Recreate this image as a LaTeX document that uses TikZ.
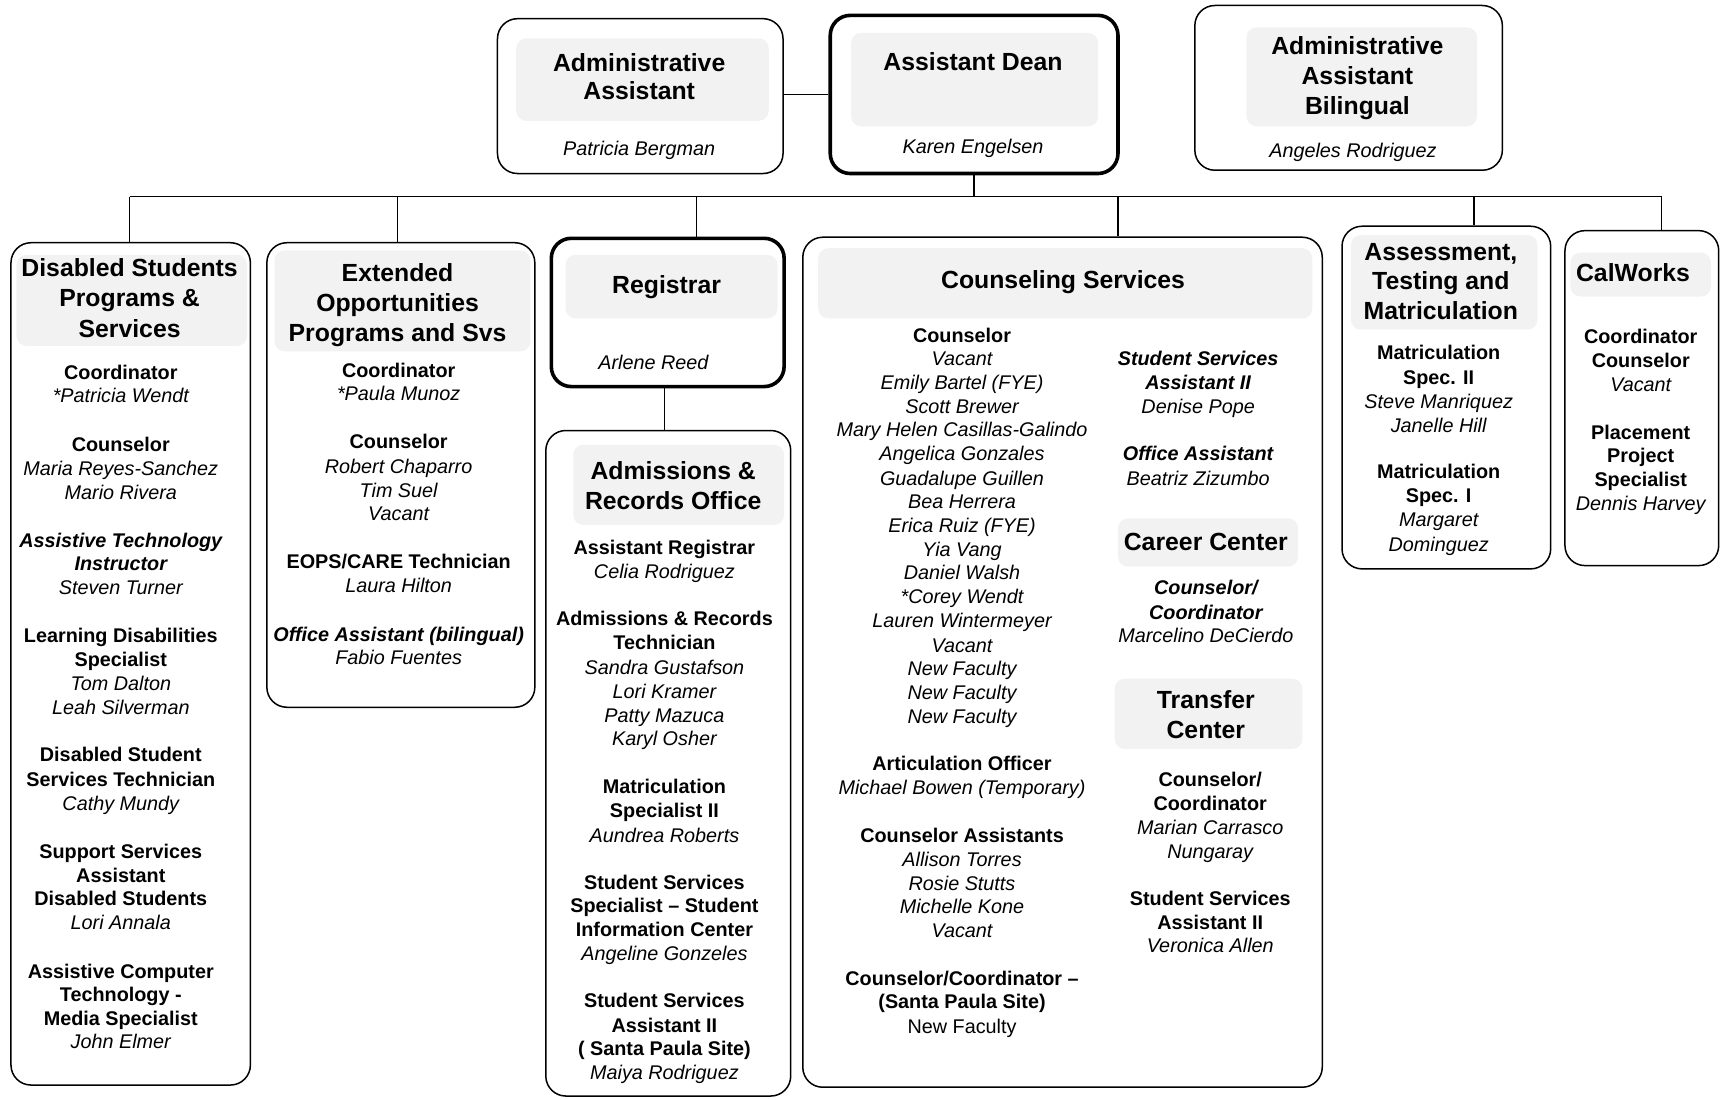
\documentclass[tikz,border=0pt]{standalone}
\usepackage{fontspec}
\setmainfont{Liberation Sans}
\usetikzlibrary{fit}
\tikzset{
  box/.style={draw=black, line width=0.75pt, rounded corners=10pt, inner sep=0pt},
  thickbox/.style={box, line width=1.8pt},
  conn/.style={draw=black, line width=0.75pt},
  shadearea/.style={fill=black!5, rounded corners=5pt},
  tt/.style={font=\bfseries\fontsize{12.4}{15}\selectfont, text height=9pt, text depth=2.6pt, inner sep=0pt, yshift=-1.2pt},
  bb/.style={font=\bfseries\fontsize{9.9}{11.9}\selectfont, text height=7pt, text depth=2pt, inner sep=0pt, yshift=-1.2pt},
  ii/.style={font=\itshape\fontsize{9.9}{11.9}\selectfont, text height=7pt, text depth=2pt, inner sep=0pt, yshift=-1.2pt},
  bi/.style={font=\bfseries\itshape\fontsize{9.9}{11.9}\selectfont, text height=7pt, text depth=2pt, inner sep=0pt, yshift=-1.2pt},
  rr/.style={font=\fontsize{9.9}{11.9}\selectfont, text height=7pt, text depth=2pt, inner sep=0pt, yshift=-1.2pt},
}
\begin{document}
\begin{tikzpicture}[x=0.5491pt, y=-0.5491pt]
\useasboundingbox (0,0) rectangle (1568,1001);

% ---------- title shading ----------
\fill[shadearea] (470,35) rectangle (700,110);
\fill[shadearea] (775,30) rectangle (1000,115);
\fill[shadearea] (1135,25) rectangle (1345,115);
\fill[shadearea] (15,232) rectangle (225,315);
\fill[shadearea] (250,228) rectangle (483,320);
\fill[shadearea] (515,232) rectangle (708,290);
\fill[shadearea] (522,405) rectangle (714,478);
\fill[shadearea] (745,226) rectangle (1195,290);
\fill[shadearea] (1018,472) rectangle (1182,516);
\fill[shadearea] (1015,618) rectangle (1186,682);
\fill[shadearea] (1230,214) rectangle (1400,300);
\fill[shadearea] (1430,230) rectangle (1558,270);

% ---------- boxes ----------
\node[box, fit={(453,17) (713,158)}] (aa) {};
\node[thickbox, fit={(756,14) (1018,158)}] (dean) {};
\node[box, fit={(1088,5) (1368,155)}] (bil) {};
\node[box, fit={(10,221) (228,988)}] (dsps) {};
\node[box, fit={(243,221) (487,644)}] (eops) {};
\node[thickbox, fit={(502,217) (714,352)}] (reg) {};
\node[box, fit={(497,392) (720,998)}] (adm) {};
\node[box, fit={(731,216) (1204,990)}] (cou) {};
\node[box, fit={(1222,206) (1412,518)}] (ass) {};
\node[box, fit={(1425,210) (1565,515)}] (cal) {};

% ---------- connectors ----------
\coordinate (busL) at (118,179);
\coordinate (busR) at (1513,179);
\coordinate (bDean) at (887,179);
\coordinate (bEops) at (362,179);
\coordinate (bReg) at (634,179);
\coordinate (bCou) at (1018,179);
\coordinate (bAss) at (1342,179);
\coordinate (aaLink) at (713,86);
\draw[conn] (aaLink) -- (aaLink -| dean.west);
\draw[conn] (dean.south -| bDean) -- (bDean);
\draw[conn] (busL) -- (busR);
\draw[conn] (busL) -- (busL |- dsps.north);
\draw[conn] (bEops) -- (bEops |- eops.north);
\draw[conn] (bReg) -- (bReg |- reg.north);
\draw[conn] (bCou) -- (bCou |- cou.north);
\draw[conn] (bAss) -- (bAss |- ass.north);
\draw[conn] (busR) -- (busR |- cal.north);
\coordinate (rA) at (605,352);
\draw[conn] (rA |- reg.south) -- (rA |- adm.north);

% ---------- top boxes text ----------
\foreach \y/\t in {57/Administrative, 83/Assistant} \node[tt] (aaT\y) at (582,\y) {\t};
\node[ii] (aaN) at (582,135) {Patricia Bergman};
\node[tt] (deanT) at (886,56) {Assistant Dean};
\node[ii] (deanN) at (886,133) {Karen Engelsen};
\foreach \y/\t in {42/Administrative, 69/Assistant, 96/Bilingual} \node[tt] (bilT\y) at (1236,\y) {\t};
\node[ii] (bilN) at (1232,137) {Angeles Rodriguez};

% ---------- DSPS ----------
\foreach \y/\t in {244/Disabled Students, 271/Programs \&, 299/Services} \node[tt] (dspsT\y) at (118,\y) {\t};
\foreach \y/\t in {339/Coordinator, 404/Counselor, 578/Learning Disabilities, 600/Specialist, 687/Disabled Student, 709/Services Technician, 775/Support Services, 797/Assistant, 818/Disabled Students, 884/Assistive Computer, 905/Technology -, 927/Media Specialist}
  \node[bb] (dspsB\y) at (110,\y) {\t};
\foreach \y/\t in {360/*Patricia Wendt, 426/Maria Reyes-Sanchez, 448/Mario Rivera, 535/Steven Turner, 622/Tom Dalton, 644/Leah Silverman, 731/Cathy Mundy, 840/Lori Annala, 948/John Elmer}
  \node[ii] (dspsI\y) at (110,\y) {\t};
\foreach \y/\t in {492/Assistive Technology, 513/Instructor}
  \node[bi] (dspsX\y) at (110,\y) {\t};

% ---------- EOPS ----------
\foreach \y/\t in {248/Extended, 276/Opportunities, 303/Programs and Svs} \node[tt] (eopsT\y) at (362,\y) {\t};
\foreach \y/\t in {337/Coordinator, 402/Counselor, 511/{EOPS/CARE Technician}}
  \node[bb] (eopsB\y) at (363,\y) {\t};
\foreach \y/\t in {358/*Paula Munoz, 424/Robert Chaparro, 446/Tim Suel, 467/Vacant, 533/Laura Hilton, 598/Fabio Fuentes}
  \node[ii] (eopsI\y) at (363,\y) {\t};
\node[bi] (eopsX577) at (363,577) {Office Assistant (bilingual)};

% ---------- Registrar ----------
\node[tt] (regT) at (607,259) {Registrar};
\node[ii] (regN) at (595,330) {Arlene Reed};

% ---------- Admissions ----------
\foreach \y/\t in {429/Admissions \&, 456/Records Office} \node[tt] (admT\y) at (613,\y) {\t};
\foreach \y/\t in {498/Assistant Registrar, 563/Admissions \& Records, 585/Technician, 716/Matriculation, 738/Specialist II, 803/Student Services, 824/Specialist -- Student, 846/Information Center, 911/Student Services, 933/Assistant II, 954/( Santa Paula Site)}
  \node[bb] (admB\y) at (605,\y) {\t};
\foreach \y/\t in {520/Celia Rodriguez, 607/Sandra Gustafson, 629/Lori Kramer, 651/Patty Mazuca, 672/Karyl Osher, 760/Aundrea Roberts, 868/Angeline Gonzeles, 976/Maiya Rodriguez}
  \node[ii] (admI\y) at (605,\y) {\t};

% ---------- Counseling ----------
\node[tt] (couT) at (968,255) {Counseling Services};
\foreach \y/\t in {305/Counselor, 695/Articulation Officer, 760/Counselor Assistants, 891/{Counselor/Coordinator --}, 912/(Santa Paula Site)}
  \node[bb] (couB\y) at (876,\y) {\t};
\node[rr] (couR934) at (876,934) {New Faculty};
\foreach \y/\t in {326/Vacant, 348/Emily Bartel (FYE), 370/Scott Brewer, 391/Mary Helen Casillas-Galindo, 413/Angelica Gonzales, 435/Guadalupe Guillen, 456/Bea Herrera, 478/Erica Ruiz (FYE), 500/Yia Vang, 521/Daniel Walsh, 543/*Corey Wendt, 565/Lauren Wintermeyer, 587/Vacant, 608/New Faculty, 630/New Faculty, 652/New Faculty, 717/Michael Bowen (Temporary), 782/Allison Torres, 804/Rosie Stutts, 825/Michelle Kone, 847/Vacant}
  \node[ii] (couI\y) at (876,\y) {\t};
% right column
\foreach \y/\t in {326/Student Services, 348/Assistant II, 413/Office Assistant}
  \node[bi] (couRX\y) at (1091,\y) {\t};
\foreach \y/\t in {370/Denise Pope, 435/Beatriz Zizumbo}
  \node[ii] (couRI\y) at (1091,\y) {\t};
\node[tt] (careerT) at (1098,493) {Career Center};
\foreach \y/\t in {535/{Counselor/}, 557/Coordinator}
  \node[bi] (careerX\y) at (1098,\y) {\t};
\node[ii] (careerN) at (1098,578) {Marcelino DeCierdo};
\foreach \y/\t in {637/Transfer, 664/Center} \node[tt] (trT\y) at (1098,\y) {\t};
\foreach \y/\t in {709/{Counselor/}, 731/Coordinator, 818/Student Services, 840/Assistant II}
  \node[bb] (trB\y) at (1102,\y) {\t};
\foreach \y/\t in {753/Marian Carrasco, 775/Nungaray, 861/Veronica Allen}
  \node[ii] (trI\y) at (1102,\y) {\t};

% ---------- Assessment ----------
\foreach \y/\t in {229/{Assessment,}, 256/Testing and, 283/Matriculation} \node[tt] (assT\y) at (1312,\y) {\t};
\foreach \y/\t in {321/Matriculation, 343/Spec. II, 429/Matriculation, 451/Spec. I}
  \node[bb] (assB\y) at (1310,\y) {\t};
\foreach \y/\t in {365/Steve Manriquez, 387/Janelle Hill, 473/Margaret, 495/Dominguez}
  \node[ii] (assI\y) at (1310,\y) {\t};

% ---------- CalWorks ----------
\node[tt] (calT) at (1487,248) {CalWorks};
\foreach \y/\t in {306/Coordinator, 328/Counselor, 393/Placement, 414/Project, 436/Specialist}
  \node[bb] (calB\y) at (1494,\y) {\t};
\foreach \y/\t in {350/Vacant, 458/Dennis Harvey}
  \node[ii] (calI\y) at (1494,\y) {\t};

\end{tikzpicture}
\end{document}
